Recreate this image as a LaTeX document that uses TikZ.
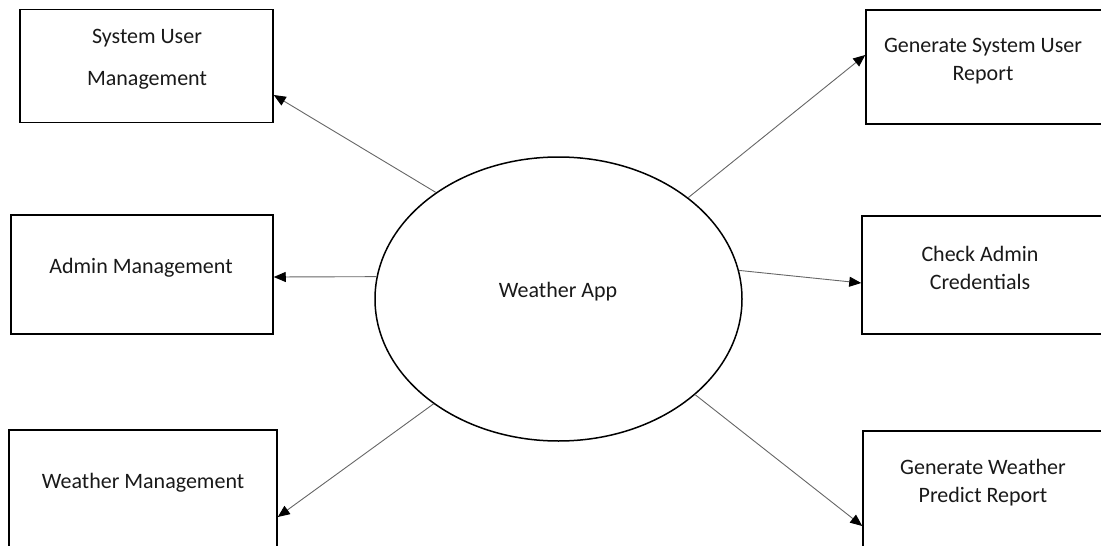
\documentclass[tikz,border=0pt]{standalone}
\usepackage{fontspec}
\setmainfont{Carlito}
\usetikzlibrary{arrows.meta,shapes.geometric}

\begin{document}
\begin{tikzpicture}[x=1pt,y=-1pt,
	every node/.style={font=\fontsize{22}{28}\selectfont, text=black!90},
	box/.style={draw, line width=1.5pt, inner sep=0pt},
	lbl/.style={align=center, inner sep=0pt},
	flow/.style={draw=black!60, line width=0.9pt, -{Triangle[length=12pt,width=10pt,color=black]}}]
	\useasboundingbox (0,0) rectangle (1101,546);
	% the six boxes round the app
	\node[box, minimum width=253, minimum height=113] (sysuser) at (146.5,65.75) {};
	\node[box, minimum width=237, minimum height=114] (userreport) at (984.5,67) {};
	\node[box, minimum width=262, minimum height=119] (admin) at (142,274.5) {};
	\node[box, minimum width=241, minimum height=118] (credentials) at (982.5,275) {};
	\node[box, minimum width=268, minimum height=120] (weathermgmt) at (143,490) {};
	\node[box, minimum width=240, minimum height=120] (predict) at (983,491) {};
	\node[draw, ellipse, line width=1.5pt, minimum width=367, minimum height=284, inner sep=0pt] (app) at (558.5,299) {};
	\node[lbl] (sysuserlbl) at (147,59) {System User\\[14pt]Management};
	\node[lbl] (userreportlbl) at (983,61) {Generate System User\\Report};
	\node[lbl] (adminlbl) at (141,268) {Admin Management};
	\node[lbl] (credentialslbl) at (980,267.5) {Check Admin\\Credentials};
	\node[lbl] (weathermgmtlbl) at (143,483) {Weather Management};
	\node[lbl] (predictlbl) at (983,482.5) {Generate Weather\\Predict Report};
	\node[lbl] (applbl) at (558,292) {Weather App};
	% flows out of the app
	\draw[flow] (app.139) -- ([yshift=-29.25pt]sysuser.east);
	\draw[flow] (app.38.3) -- ([yshift=12pt]userreport.west);
	\draw[flow] (app.173.4) -- ([yshift=-2.5pt]admin.east);
	\draw[flow] (app.9.9) -- ([yshift=-8pt]credentials.west);
	\draw[flow] (app.220.2) -- ([yshift=-27pt]weathermgmt.east);
	\draw[flow] (app.325.8) -- ([yshift=-35pt]predict.west);
\end{tikzpicture}
\end{document}
